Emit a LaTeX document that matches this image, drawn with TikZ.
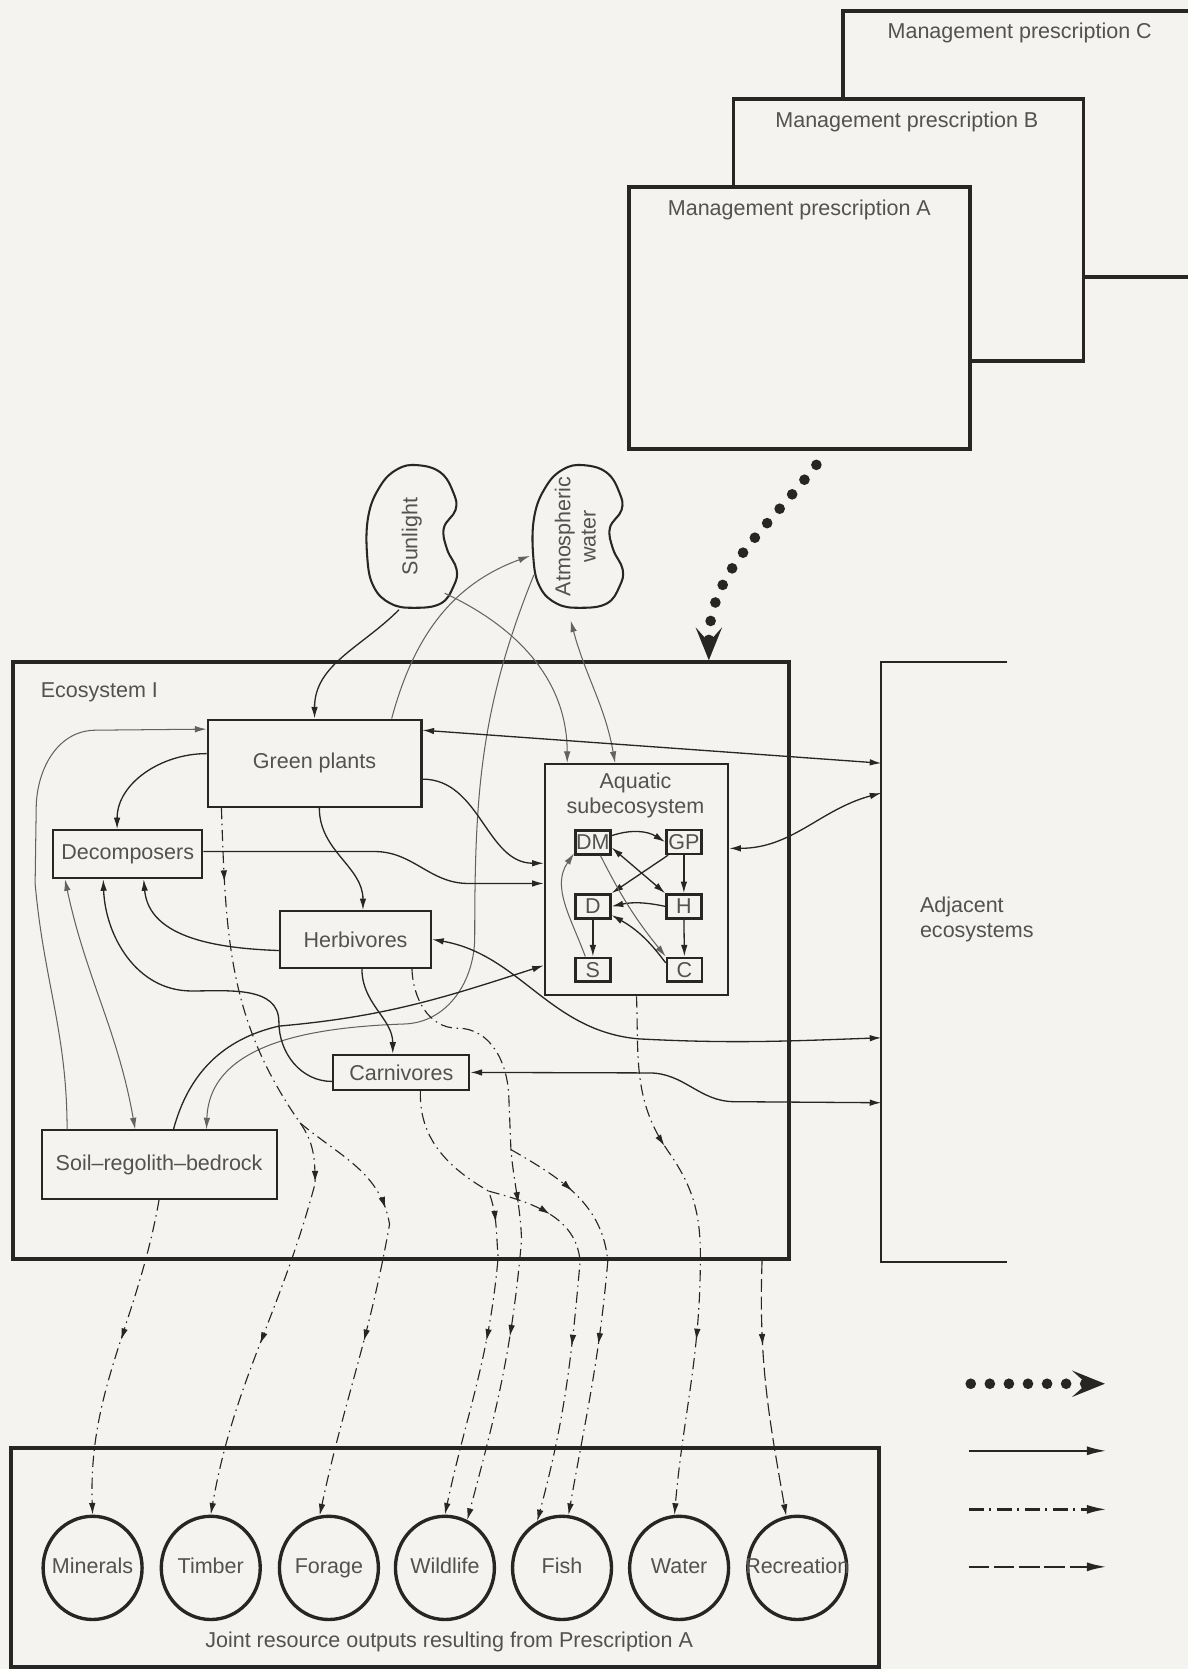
\documentclass[tikz,border=0pt]{standalone}
\usepackage{fontspec}
\setmainfont{Liberation Sans}
\usepackage{graphicx}
\usepackage{tikz}
\usetikzlibrary{arrows.meta,calc,decorations.markings,shapes.geometric}
\definecolor{paper}{RGB}{244,243,239}
\definecolor{ink}{RGB}{40,37,37}
\definecolor{faint}{RGB}{100,97,97}

\begin{document}
\begin{tikzpicture}[x=0.02cm,y=-0.02cm,font=\fontsize{11.5}{13.5}\selectfont,
  color=ink,text=ink!80,>={Latex[length=6.2pt,width=3.5pt]},
  heavy/.style={draw,line width=2pt,inner sep=0pt},
  box/.style={draw,line width=1.1pt,inner sep=0pt},
  sub/.style={draw,line width=1.3pt,inner sep=0pt,minimum width=0.66cm,minimum height=0.45cm},
  res/.style={ellipse,draw,line width=1.8pt,inner sep=0pt,minimum width=1.86cm,minimum height=1.94cm,text height=8.5pt,text depth=2.5pt},
  bean/.style={ellipse,inner sep=0pt,minimum width=1.84cm,minimum height=2.84cm},
  lbl/.style={inner sep=0pt},
  flow/.style={->,line width=0.7pt},
  twoway/.style={<->,line width=0.7pt},
  pale/.style={draw=faint,line width=0.55pt},
  outflow/.style={->,line width=0.6pt,dash pattern=on 6pt off 2.5pt on 0.8pt off 2.5pt},
  mk/.style={postaction={decorate,decoration={markings,mark=at position #1 with {\arrow{>}}}}},
  bigdots/.style={line width=5.7pt,line cap=round,dash pattern=on 0pt off 10.2pt,
    -{Stealth[length=0.62cm,width=0.5cm,inset=0.28cm,line width=0pt]}}]
\useasboundingbox (0,0) rectangle (1116,1568);
\fill[paper] (0,0) rectangle (1116,1568);

\node[heavy,fill=paper,minimum width=6.96cm,minimum height=5cm] (pc) at (966,135) {};
\node[lbl] (pct) at (958,31) {Management prescription C};
\node[heavy,fill=paper,minimum width=6.58cm,minimum height=4.92cm] (pb) at (853.5,216) {};
\node[lbl] (pbt) at (852,115) {Management prescription B};
\node[heavy,fill=paper,minimum width=6.4cm,minimum height=4.92cm] (pa) at (751,299) {};
\node[lbl] (pat) at (751,197) {Management prescription A};

\node[bean] (sun) at (387,504) {\rotatebox{90}{Sunlight}};
\node[bean] (atm) at (543,504) {\rotatebox{90}{\begin{tabular}{@{}c@{}}Atmospheric\\water\end{tabular}}};
\foreach \b in {sun,atm}
  \draw[line width=1.1pt,shift={(\b.center)}] plot[smooth cycle,tension=0.7] coordinates {(5,-67) (27,-60) (39,-41) (41,-25) (30,-8) (33,12) (42,31) (39,47) (27,63) (2,67) (-20,63) (-36,47) (-42,19) (-41,-19) (-30,-47) (-14,-63)};

\node[heavy,minimum width=14.58cm,minimum height=11.22cm] (eco) at (376.5,902.5) {};
\node[lbl,anchor=west] (ecot) at (38,650) {Ecosystem I};
\node[minimum width=2.36cm,minimum height=11.26cm,inner sep=0pt] (adj) at (887,903.5) {};
\draw[line width=1.1pt] (adj.north east) -- (adj.north west) -- (adj.south west) -- (adj.south east);
\node[lbl,anchor=west,align=left] (adjt) at (864,864) {Adjacent\\ecosystems};
\node[heavy,minimum width=16.32cm,minimum height=4.12cm] (outbox) at (418,1463) {};
\node[lbl] (outt) at (422,1543) {Joint resource outputs resulting from Prescription A};

\node[box,minimum width=4.02cm,minimum height=1.64cm] (gp) at (295.5,717) {Green plants};
\node[box,minimum width=2.8cm,minimum height=0.9cm] (dec) at (120,802.5) {Decomposers};
\node[box,minimum width=2.84cm,minimum height=1.06cm] (herb) at (334,882.5) {Herbivores};
\node[box,minimum width=2.56cm,minimum height=0.66cm] (carn) at (377,1007.5) {Carnivores};
\node[box,minimum width=4.42cm,minimum height=1.28cm] (soil) at (149.5,1094) {Soil--regolith--bedrock};
\node[box,line width=1.3pt,minimum width=3.44cm,minimum height=4.34cm] (aq) at (598,826.5) {};
\node[lbl,align=center] (aqt) at (597,747) {Aquatic\\subecosystem};
\foreach \n/\x/\y/\t in {dm/557/791.5/DM,gp2/642.5/791/GP,d/557/851.5/D,h/642.5/851.5/H,s/557/911/S,c/643/911/C}
  \node[sub] (\n) at (\x,\y) {\t};

\foreach \n/\x/\t in {min/87/Minerals,tim/198/Timber,for/309/Forage,wil/418/Wildlife,fish/528/Fish,wat/638/Water,rec/749/Recreation}
  \node[res] (\n) at (\x,1473) {\makebox[0pt]{\t}};

\coordinate (adj1) at (828,717);
\coordinate (adj2) at (828,745);
\coordinate (adj3) at (828,975);
\coordinate (adj4) at (828,1036);
\coordinate (gsplit) at (282,1055);
\coordinate (hsplit) at (480,1080);
\coordinate (csplit) at (459,1119);

\draw[bigdots] ([xshift=0.32cm,yshift=-0.26cm]pa.south) to[out=-128,in=90] ([xshift=5.79cm]eco.north);

\draw[flow] (sun.-100) to[out=-135,in=90] (gp.north);
\draw[flow,pale] (sun.-60) to[out=-25,in=90] ([xshift=0.44cm]aq.north west);
\draw[twoway,pale] (atm.-95) to[out=-75,in=100] ([xshift=1.34cm]aq.north west);
\draw[flow,pale] ([xshift=1.45cm]gp.north) to[out=75,in=-160] (atm.-158);
\draw[flow,pale] (atm.-139) to[out=-112,in=90] (446,880) to[out=-90,in=2] (380,962) to[out=182,in=88] ([xshift=0.89cm]soil.north);
\draw[flow,pale] ([xshift=-1.73cm]soil.north) to[out=90,in=-85] (33,830) -- (34,760) to[out=90,in=180] (90,686) -- ([yshift=0.64cm]gp.west);
\draw[twoway,pale] ([xshift=-1.18cm]dec.south) to[out=-78,in=100] ([xshift=-0.45cm]soil.north);
\draw[flow] ([yshift=0.18cm]gp.west) to[out=180,in=90] ([xshift=-0.2cm]dec.north);
\draw[flow] ([yshift=-0.21cm]herb.west) to[out=178,in=-85] ([xshift=0.3cm]dec.south);
\draw[flow] ([yshift=-0.17cm]carn.west) to[out=180,in=-90] (262,960) to[out=90,in=0] (180,931) to[out=180,in=-88] ([xshift=-0.46cm]dec.south);
\draw[flow] ([xshift=0.09cm]gp.south) to[out=-90,in=90] ([xshift=0.14cm]herb.north);
\draw[flow] ([xshift=0.12cm]herb.south) to[out=-90,in=90] ([xshift=-0.16cm]carn.north);
\draw[twoway] ([yshift=0.62cm]gp.east) -- (adj1);
\draw[flow] ([yshift=0.05cm]dec.east) -- (352,800) to[out=0,in=180] (440,830) -- ([yshift=-0.07cm]aq.west);
\draw[flow] ([yshift=-0.3cm]gp.east) to[out=0,in=180] ([yshift=0.31cm]aq.west);
\draw[flow] ([xshift=0.27cm]soil.north) to[out=75,in=193] (262,964) to[out=5,in=198] ([yshift=-1.61cm]aq.west);
\draw[twoway] ([yshift=0.59cm]aq.east) to[out=0,in=195] (adj2);
\draw[twoway] (herb.east) to[out=-10,in=175] (600,976) to[out=-3,in=182] (adj3);
\draw[twoway] (carn.east) -- (610,1008) to[out=0,in=180] (690,1035) -- (adj4);

\draw[flow] (dm.20) to[bend left=25] (gp2.west);
\draw[flow] (gp2.-140) -- (d.35);
\draw[flow] (gp2.south) -- (h.north);
\draw[twoway] (dm.-15) -- (h.north west);
\draw[flow] (h.west) to[bend right=12] (d.east);
\draw[flow] (d.south) -- (s.north);
\draw[flow] (h.south) -- (c.north);
\draw[flow,pale] (dm.-60) to[bend right=6] (c.north west);
\draw[flow] (c.160) to[bend right=12] (d.-25);
\draw[flow,pale] (s.120) to[out=110,in=-125] (dm.-150);

\draw[outflow,mk=0.45] (soil.south) to[out=-100,in=92] (min.north);
\draw[outflow,mk=0.1,mk=0.53,mk=0.76] ([xshift=-1.75cm]gp.south) to[out=-88,in=125] (gsplit) to[out=-55,in=90] (296,1112) to[out=-105,in=80] (tim.north);
\draw[outflow,mk=0.28,mk=0.59] (gsplit) to[out=-40,in=100] (366,1150) to[out=-100,in=78] (for.100);
\draw[outflow,mk=0.47,mk=0.69] ([xshift=1.06cm]herb.south) to[out=-88,in=180] (430,966) to[out=0,in=92] (478,1030) -- (hsplit) to[out=-85,in=92] (490,1165) to[out=-95,in=75] (wil.65);
\draw[outflow,mk=0.18,mk=0.58] (hsplit) to[out=-30,in=95] (571,1185) to[out=-95,in=80] (fish.83);
\draw[outflow,mk=0.35,mk=0.61] ([xshift=0.36cm]carn.south) to[out=-92,in=150] (csplit) to[out=-70,in=95] (468,1181) to[out=-95,in=78] (wil.north);
\draw[outflow,mk=0.17,mk=0.54] (csplit) to[out=-15,in=95] (545,1185) to[out=-95,in=75] (fish.118);
\draw[outflow,mk=0.29,mk=0.67] (aq.south) to[out=-88,in=125] (628,1082) to[out=-55,in=90] (658,1180) to[out=-90,in=85] (wat.95);
\draw[->,line width=0.6pt,dash pattern=on 7pt off 2.5pt,mk=0.33] ([xshift=6.79cm]eco.south) to[out=-92,in=100] (rec.102);

\coordinate (k1a) at (912,1300);
\coordinate (k1b) at (1038,1300);
\coordinate (k2a) at (910,1363);
\coordinate (k2b) at (1040,1363);
\coordinate (k3a) at (910,1418);
\coordinate (k3b) at (1040,1418);
\coordinate (k4a) at (910,1472);
\coordinate (k4b) at (1040,1472);
\draw[bigdots] (k1a) -- (k1b);
\draw[line width=1.3pt,-{Latex[length=0.38cm,width=0.17cm]}] (k2a) -- (k2b);
\draw[line width=1.3pt,dash pattern=on 8pt off 3pt on 1pt off 3pt,-{Latex[length=0.38cm,width=0.17cm]}] (k3a) -- (k3b);
\draw[line width=1.3pt,dash pattern=on 11pt off 2.5pt,-{Latex[length=0.38cm,width=0.17cm]}] (k4a) -- (k4b);
\end{tikzpicture}
\end{document}
